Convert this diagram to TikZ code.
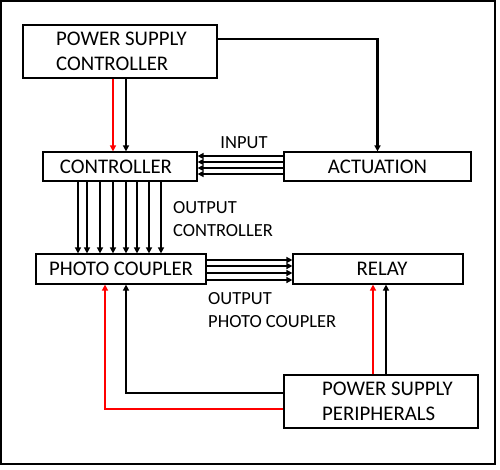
\documentclass[tikz,border=0pt]{standalone}
\usepackage{fontspec}
\setmainfont{Carlito}
\usetikzlibrary{arrows.meta}
\begin{document}
\begin{tikzpicture}[x=1pt,y=-1pt,
  box/.style={draw, line width=1.2pt, inner sep=0pt, font=\fontsize{20.8}{25}\selectfont},
  btext/.style={anchor=west, align=left, inner sep=0pt, font=\fontsize{20.8}{25}\selectfont},
  lbl/.style={align=left, inner sep=0pt, font=\fontsize{18.5}{23.5}\selectfont},
  conn/.style={line width=2.1pt, -{Triangle[length=6pt,width=6pt]}},
  redconn/.style={conn, red}]
\useasboundingbox (0,0) rectangle (500,469);
\draw[line width=1.2pt] (1,1) rectangle (495,464);

% boxes
\node[box, minimum width=194pt, minimum height=53pt] (psc) at (120,51.5) {};
\node[btext] (psct) at (56,51.5) {POWER SUPPLY\\CONTROLLER};
\node[box, minimum width=154pt, minimum height=29pt] (ctrl) at (120,166.5) {\hspace*{-8pt}CONTROLLER};
\node[box, minimum width=187pt, minimum height=29pt] (act) at (377.5,166.5) {ACTUATION};
\node[box, minimum width=170pt, minimum height=30pt] (pc) at (121,269) {PHOTO COUPLER};
\node[box, minimum width=170pt, minimum height=30pt] (relay) at (378,269) {\hspace*{8pt}RELAY};
\node[box, minimum width=194pt, minimum height=53pt] (psp) at (381,401.5) {};
\node[btext] (pspt) at (322,401.5) {POWER SUPPLY\\PERIPHERALS};

% labels
\node[lbl] (inlbl) at (244,143) {INPUT};
\node[lbl, anchor=west] (oclbl) at (173,219) {OUTPUT\\CONTROLLER};
\node[lbl, anchor=west] (opclbl) at (208,310) {OUTPUT\\PHOTO COUPLER};

% power supply controller
\draw[redconn] (113,0 |- psc.south) -- (113,0 |- ctrl.north);
\draw[conn] (126,0 |- psc.south) -- (126,0 |- ctrl.north);
\draw[conn] (psc.east |- 0,39) -- (act.north |- 0,39) -- (act.north);

% input
\foreach \y in {156,162,168,174}
  \draw[conn] (act.west |- 0,\y) -- (ctrl.east |- 0,\y);

% controller outputs
\foreach \x in {78,87,100,113,126,137,149,161}
  \draw[conn] (\x,0 |- ctrl.south) -- (\x,0 |- pc.north);

% photo coupler outputs
\foreach \y in {260,266,273,280}
  \draw[conn] (pc.east |- 0,\y) -- (relay.west |- 0,\y);

% power supply peripherals
\draw[redconn] (373,0 |- psp.north) -- (373,0 |- relay.south);
\draw[conn] (386,0 |- psp.north) -- (386,0 |- relay.south);
\draw[conn] (psp.west |- 0,393) -| (126,0 |- pc.south);
\draw[redconn] (psp.west |- 0,409) -| (105,0 |- pc.south);
\end{tikzpicture}
\end{document}
